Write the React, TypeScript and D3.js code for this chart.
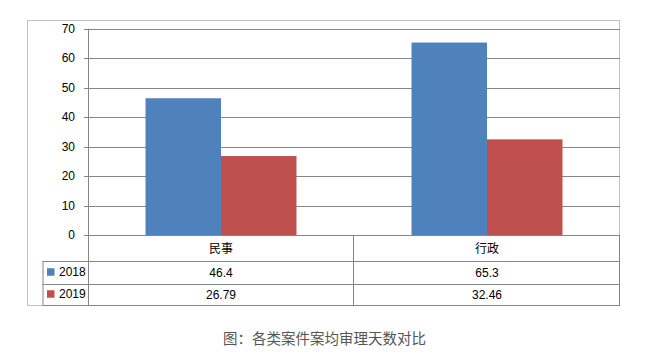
import React from 'react';
import * as d3 from 'd3';

const categories = ['民事', '行政'];
const seriesNames = ['2018', '2019'];
const values2018 = [46.4, 65.3];
const values2019 = [26.79, 32.46];
const valueLabels2018 = ['46.4', '65.3'];
const valueLabels2019 = ['26.79', '32.46'];
const yTicks = [0, 10, 20, 30, 40, 50, 60, 70];
const caption = '图：各类案件案均审理天数对比';

const colors = ['#4F81BD', '#C0504D'];

const W = 645;
const H = 359;
const frame = { left: 27, top: 20, right: 620, bottom: 305 };
const plot = { left: 88, right: 620, top: 28.7, bottom: 235 };
const rowBottoms = [261, 283.5, 305];
const legendLeft = 42.5;
const font = '"Liberation Sans", Arial, sans-serif';
const cjkFont = '"Noto Sans CJK SC", "Liberation Sans", sans-serif';

const App: React.FC = () => {
  const x = d3.scaleBand<string>().domain(categories).range([plot.left, plot.right]).padding(0);
  const xs = d3
    .scaleBand<string>()
    .domain(seriesNames)
    .range([0, x.bandwidth()])
    .paddingInner(0)
    .paddingOuter(0.762);
  const y = d3.scaleLinear().domain([0, 70]).range([plot.bottom, plot.top]);

  const series = [values2018, values2019];
  const labels = [valueLabels2018, valueLabels2019];
  const gridColor = '#868686';

  return (
    <div style={{ position: 'absolute', left: 0, top: 0 }}>
      <svg width={W} height={H} style={{ display: 'block', background: '#fff' }}>
        {/* outer frame */}
        <rect
          x={frame.left + 0.5}
          y={frame.top + 0.5}
          width={frame.right - frame.left - 1}
          height={frame.bottom - frame.top}
          fill="#fff"
          stroke="#c0c0c0"
        />

        {/* gridlines + ticks */}
        {yTicks.map(t => (
          <g key={t}>
            <line x1={plot.left - 4} x2={plot.right} y1={Math.round(y(t)) + 0.5} y2={Math.round(y(t)) + 0.5} stroke={gridColor} />
            <text
              x={75}
              y={y(t)}
              dy="0.35em"
              textAnchor="end"
              fontFamily={font}
              fontSize={12}
              fill="#000"
            >
              {t}
            </text>
          </g>
        ))}

        {/* bars */}
        {categories.map((c, i) => (
          <g key={c} transform={`translate(${x(c)},0)`}>
            {series.map((vals, s) => (
              <rect
                key={s}
                x={xs(seriesNames[s])}
                y={y(vals[i])}
                width={xs.bandwidth()}
                height={y(0) - y(vals[i])}
                fill={colors[s]}
              />
            ))}
          </g>
        ))}

        {/* y axis line (runs through table) */}
        <line x1={plot.left + 0.5} x2={plot.left + 0.5} y1={plot.top} y2={frame.bottom} stroke={gridColor} />

        {/* data table */}
        {rowBottoms.map((rb, r) => (
          <line
            key={r}
            x1={r === 0 ? legendLeft : r === rowBottoms.length - 1 ? legendLeft : legendLeft}
            x2={plot.right}
            y1={Math.round(rb) + 0.5}
            y2={Math.round(rb) + 0.5}
            stroke={gridColor}
          />
        ))}
        <line x1={legendLeft + 0.5} x2={legendLeft + 0.5} y1={rowBottoms[0]} y2={frame.bottom} stroke={gridColor} />
        {categories.map((c, i) => (
          <line
            key={c}
            x1={Math.round((x(c) as number) + x.bandwidth()) - 0.5}
            x2={Math.round((x(c) as number) + x.bandwidth()) - 0.5}
            y1={plot.bottom}
            y2={frame.bottom}
            stroke={gridColor}
          />
        ))}

        {/* category labels */}
        {categories.map(c => (
          <text
            key={c}
            x={(x(c) as number) + x.bandwidth() / 2}
            y={(plot.bottom + rowBottoms[0]) / 2 + 1}
            dy="0.35em"
            textAnchor="middle"
            fontFamily={cjkFont}
            fontSize={12}
            fill="#000"
          >
            {c}
          </text>
        ))}

        {/* series rows */}
        {seriesNames.map((name, s) => {
          const top = rowBottoms[s];
          const bottom = rowBottoms[s + 1];
          const mid = (top + bottom) / 2;
          return (
            <g key={name}>
              <rect x={47} y={mid - 4} width={7.5} height={7.5} fill={colors[s]} />
              <text x={59} y={mid} dy="0.35em" fontFamily={font} fontSize={12} fill="#000">
                {name}
              </text>
              {categories.map((c, i) => (
                <text
                  key={c}
                  x={(x(c) as number) + x.bandwidth() / 2}
                  y={mid + 0.5}
                  dy="0.35em"
                  textAnchor="middle"
                  fontFamily={font}
                  fontSize={12}
                  fill="#000"
                >
                  {labels[s][i]}
                </text>
              ))}
            </g>
          );
        })}

        {/* caption */}
        <text
          x={324.5}
          y={344}
          textAnchor="middle"
          fontFamily={cjkFont}
          fontSize={14.5}
          fill="#555"
        >
          {caption}
        </text>
      </svg>
    </div>
  );
};

export default App;
